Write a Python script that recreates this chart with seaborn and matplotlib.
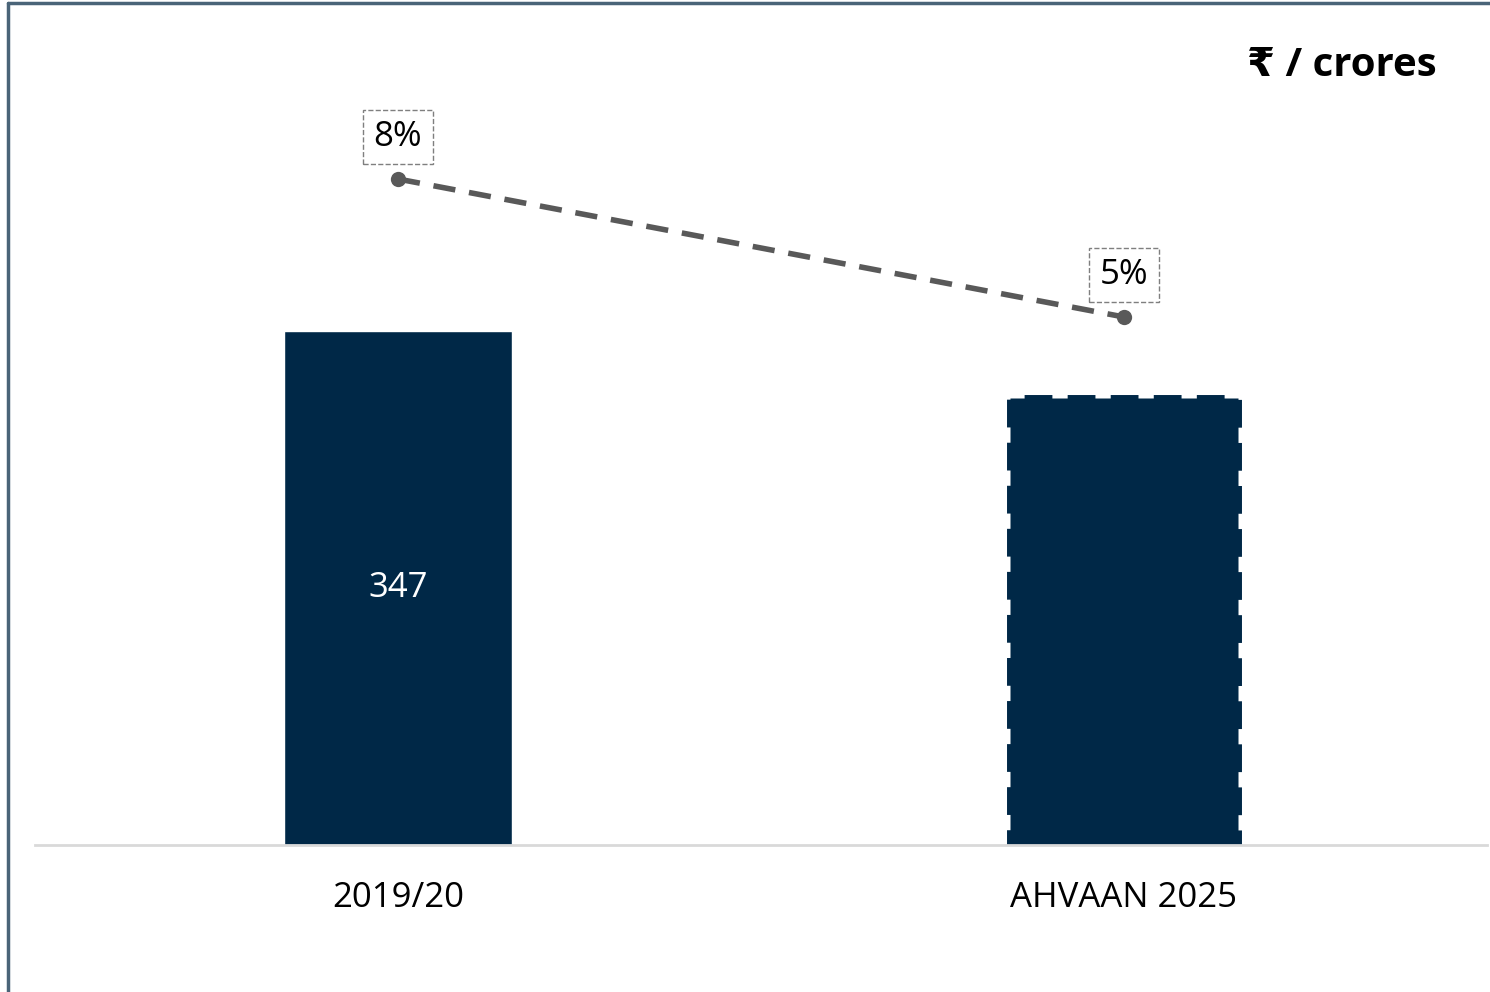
import pandas as pd
import matplotlib.pyplot as plt
import seaborn as sns
from matplotlib.lines import Line2D

# Chart values
categories = ['2019/20', 'AHVAAN 2025']
values = [347, 302]
value_labels = ['347', '']
share_pct = [8, 5]
share_labels = ['8%', '5%']

navy = '#002847'
grey = '#595959'

sns.set_theme(style='white')
plt.rcParams['font.family'] = ['Open Sans', 'DejaVu Sans']
plt.rcParams['text.color'] = 'black'

df = pd.DataFrame({'period': categories, 'value': values, 'share': share_pct})

fig = plt.figure(figsize=(14.9, 9.92), dpi=100)
ax = fig.add_axes([35 / 1490, 1 - 845 / 992, 1452 / 1490, 785 / 992])

sns.barplot(data=df, x='period', y='value', color=navy, width=0.314,
            saturation=1, ax=ax)
ax.set_xlim(-0.5, 1.5)
ax.set_ylim(0, 785 / 1.481)

# second bar is a target: dashed outline
target = ax.patches[1]
target.set_edgecolor(navy)
target.set_linewidth(5)
target.set_linestyle((0, (4, 2.2)))

for p, lab in zip(ax.patches, value_labels):
    if lab:
        ax.text(p.get_x() + p.get_width() / 2, p.get_height() / 2, lab,
                ha='center', va='center', color='white', fontsize=25)

for s in ['top', 'right', 'left']:
    ax.spines[s].set_visible(False)
ax.spines['bottom'].set_color('#d9d9d9')
ax.spines['bottom'].set_linewidth(2)
ax.set_yticks([])
ax.set_xlabel('')
ax.set_ylabel('')
ax.tick_params(axis='x', length=0, labelsize=25, pad=26, colors='black')

# percentage line on a secondary axis
ax2 = ax.twinx()
sns.lineplot(data=df, x='period', y='share', ax=ax2, color=grey,
             linewidth=4, linestyle=(0, (4, 2.5)), marker='o', markersize=11,
             markeredgewidth=0, sort=False)
ax2.set_ylim(5 - (845 - 317) / 46, 8 + (179 - 60) / 46)
ax2.set_xlim(-0.5, 1.5)
ax2.axis('off')
for i, (v, lab) in enumerate(zip(share_pct, share_labels)):
    ax2.annotate(lab, (i, v), xytext=(0, 18), textcoords='offset points',
                 ha='center', va='bottom', fontsize=25, color='black',
                 bbox=dict(boxstyle='square,pad=0.3', fc='white',
                           ec='#7f7f7f', ls='--', lw=1))

fig.text(1437 / 1490, 1 - 66 / 992, '₹ / crores', ha='right', va='center',
         fontsize=29, fontweight='bold', color='black',
         family=['Open Sans', 'DejaVu Sans'])

# frame around the slide
fig.add_artist(Line2D([8 / 1490, 1], [1 - 3 / 992, 1 - 3 / 992],
                      color='#4a6478', lw=2.5, transform=fig.transFigure))
fig.add_artist(Line2D([8 / 1490, 8 / 1490], [0, 1 - 3 / 992],
                      color='#4a6478', lw=2.5, transform=fig.transFigure))

fig.savefig('out.png', dpi=100)
plt.close()
